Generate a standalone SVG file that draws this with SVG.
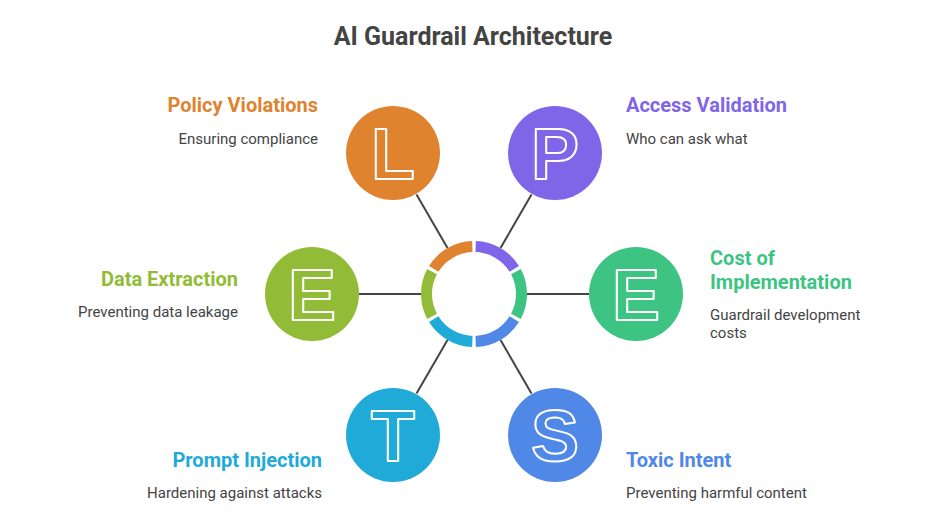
<svg xmlns="http://www.w3.org/2000/svg" width="948" height="529" viewBox="0 0 948 529">
<style>
.title{font-family:Roboto,"Liberation Sans",sans-serif;font-weight:700;font-size:25px;fill:#444}
.h{font-family:Roboto,"Liberation Sans",sans-serif;font-weight:700;font-size:20px}
.d{font-family:Roboto,"Liberation Sans",sans-serif;font-size:15px;fill:#444}
.r{text-anchor:end}
.letter{font-family:"Liberation Sans",sans-serif;font-weight:700;font-size:72px;text-anchor:middle;stroke:#fff;stroke-width:2;stroke-linejoin:round}
.seg{fill:none;stroke-width:11}
.conn line{stroke:#444;stroke-width:2}
</style>
<rect width="948" height="529" fill="#fff"/>
<text class="title" x="473" y="45" text-anchor="middle">AI Guardrail Architecture</text>
<g class="conn" id="connectors">
<line x1="500.5" y1="248.1" x2="531.5" y2="194.4"/>
<line x1="527" y1="294" x2="589" y2="294"/>
<line x1="500.5" y1="339.9" x2="531.5" y2="393.6"/>
<line x1="447.5" y1="339.9" x2="416.5" y2="393.6"/>
<line x1="421" y1="294" x2="359" y2="294"/>
<line x1="447.5" y1="248.1" x2="416.5" y2="194.4"/>
</g>
<g id="ring">
<path class="seg" stroke="#7F66E8" d="M475.66 246.53 A47.5 47.5 0 0 1 514.28 268.83"/>
<path class="seg" stroke="#3DC483" d="M515.94 271.70 A47.5 47.5 0 0 1 515.94 316.30"/>
<path class="seg" stroke="#4F88E6" d="M514.28 319.17 A47.5 47.5 0 0 1 475.66 341.47"/>
<path class="seg" stroke="#1FAAD8" d="M472.34 341.47 A47.5 47.5 0 0 1 433.72 319.17"/>
<path class="seg" stroke="#92BC37" d="M432.06 316.30 A47.5 47.5 0 0 1 432.06 271.70"/>
<path class="seg" stroke="#E0832F" d="M433.72 268.83 A47.5 47.5 0 0 1 472.34 246.53"/>
</g>
<g id="node-policy">
<circle cx="393" cy="153" r="47" fill="#E0832F"/>
<text class="letter" x="393" y="179" fill="#E0832F">L</text>
<text class="h r" x="318" y="112" fill="#E0832F">Policy Violations</text>
<text class="d r" x="318" y="144">Ensuring compliance</text>
</g>
<g id="node-access">
<circle cx="555" cy="153" r="47" fill="#7F66E8"/>
<text class="letter" x="555" y="179" fill="#7F66E8">P</text>
<text class="h" x="626" y="112" fill="#7F66E8">Access Validation</text>
<text class="d" x="626" y="144">Who can ask what</text>
</g>
<g id="node-cost">
<circle cx="636" cy="294" r="47" fill="#3DC483"/>
<text class="letter" x="636" y="320" fill="#3DC483">E</text>
<text class="h" x="710" y="265" fill="#3DC483">Cost of</text>
<text class="h" x="710" y="289" fill="#3DC483">Implementation</text>
<text class="d" x="710" y="320">Guardrail development</text>
<text class="d" x="710" y="338">costs</text>
</g>
<g id="node-data">
<circle cx="312" cy="294" r="47" fill="#92BC37"/>
<text class="letter" x="312" y="320" fill="#92BC37">E</text>
<text class="h r" x="238" y="286" fill="#92BC37">Data Extraction</text>
<text class="d r" x="238" y="317">Preventing data leakage</text>
</g>
<g id="node-prompt">
<circle cx="393" cy="435" r="47" fill="#1FAAD8"/>
<text class="letter" x="393" y="461" fill="#1FAAD8">T</text>
<text class="h r" x="322" y="467" fill="#1FAAD8">Prompt Injection</text>
<text class="d r" x="322" y="498">Hardening against attacks</text>
</g>
<g id="node-toxic">
<circle cx="555" cy="435" r="47" fill="#4F88E6"/>
<text class="letter" x="555" y="461" fill="#4F88E6">S</text>
<text class="h" x="626" y="467" fill="#4F88E6">Toxic Intent</text>
<text class="d" x="626" y="498">Preventing harmful content</text>
</g>
</svg>
